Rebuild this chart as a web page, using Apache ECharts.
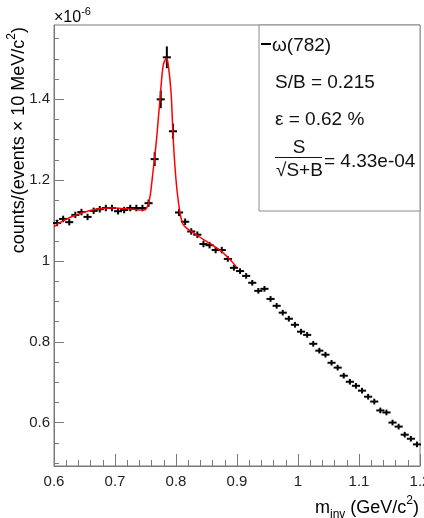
<!doctype html>
<html>
<head>
<meta charset="utf-8">
<script src="https://cdn.jsdelivr.net/npm/echarts@6/dist/echarts.min.js"></script>
<style>
  html, body { margin: 0; padding: 0; background: #fff; }
  #omegaChart { width: 424px; height: 518px; }
</style>
</head>
<body>
<div id="omegaChart"></div>
<script type="text/javascript">
    // invariant mass bins (GeV/c^2), 10 MeV wide
    const massBins = [
        0.605, 0.615, 0.625, 0.635, 0.645, 0.655, 0.665, 0.675, 0.685, 0.695,
        0.705, 0.715, 0.725, 0.735, 0.745, 0.755, 0.765, 0.775, 0.785, 0.795,
        0.805, 0.815, 0.825, 0.835, 0.845, 0.855, 0.865, 0.875, 0.885, 0.895,
        0.905, 0.915, 0.925, 0.935, 0.945, 0.955, 0.965, 0.975, 0.985, 0.995,
        1.005, 1.015, 1.025, 1.035, 1.045, 1.055, 1.065, 1.075, 1.085, 1.095,
        1.105, 1.115, 1.125, 1.135, 1.145, 1.155, 1.165, 1.175, 1.185, 1.195
    ];
    // counts in units of 1e-6
    const counts = [
        1.094, 1.104, 1.096, 1.114, 1.121, 1.109, 1.124, 1.128, 1.131, 1.131,
        1.123, 1.126, 1.131, 1.131, 1.131, 1.143, 1.252, 1.400, 1.504, 1.321,
        1.120, 1.097, 1.073, 1.065, 1.042, 1.039, 1.027, 1.027, 1.005, 0.983,
        0.975, 0.963, 0.946, 0.926, 0.931, 0.906, 0.889, 0.872, 0.857, 0.842,
        0.825, 0.817, 0.795, 0.778, 0.768, 0.748, 0.736, 0.716, 0.701, 0.691,
        0.679, 0.664, 0.652, 0.630, 0.625, 0.600, 0.590, 0.570, 0.560, 0.546
    ];
    const countErr = [
        0.008, 0.008, 0.008, 0.008, 0.008, 0.008, 0.008, 0.008, 0.008, 0.008,
        0.008, 0.008, 0.008, 0.008, 0.008, 0.009, 0.017, 0.022, 0.027, 0.019,
        0.009, 0.008, 0.008, 0.008, 0.008, 0.008, 0.008, 0.008, 0.007, 0.007,
        0.007, 0.007, 0.007, 0.007, 0.007, 0.007, 0.007, 0.007, 0.007, 0.007,
        0.007, 0.007, 0.007, 0.007, 0.007, 0.007, 0.007, 0.007, 0.007, 0.007,
        0.007, 0.007, 0.007, 0.007, 0.007, 0.007, 0.007, 0.007, 0.007, 0.007
    ];
    // fit curve
    const fitMass = [
        0.600, 0.610, 0.620, 0.630, 0.640, 0.650, 0.660, 0.670, 0.680, 0.690,
        0.700, 0.710, 0.720, 0.730, 0.740, 0.748, 0.754, 0.758, 0.762, 0.766,
        0.769, 0.774, 0.779, 0.784, 0.787, 0.792, 0.795, 0.798, 0.802, 0.807,
        0.811, 0.816, 0.823, 0.834, 0.845, 0.856, 0.864, 0.872, 0.880, 0.889, 0.899
    ];
    const fitCounts = [
        1.085, 1.095, 1.103, 1.110, 1.116, 1.121, 1.125, 1.128, 1.130, 1.131,
        1.131, 1.130, 1.129, 1.128, 1.126, 1.126, 1.138, 1.165, 1.217, 1.270,
        1.316, 1.405, 1.484, 1.501, 1.489, 1.415, 1.316, 1.240, 1.170, 1.115,
        1.092, 1.083, 1.075, 1.064, 1.053, 1.043, 1.035, 1.027, 1.016, 1.003, 0.985
    ];
    const yMajorTicks = [0.6, 0.8, 1, 1.2, 1.4];
    const yMinorTicks = [0.5, 0.55, 0.65, 0.7, 0.75, 0.85, 0.9, 0.95, 1.05, 1.1, 1.15,
        1.25, 1.3, 1.35, 1.45, 1.5, 1.55];
    const legendLines = ['ω(782)', 'S/B = 0.215', 'ε = 0.62 %'];
    const significance = '4.33e-04';

    const FONT = '"Liberation Sans", Arial, sans-serif';
    const AXIS_COLOR = '#7a7a7a';
    const halfBin = 0.005;

    const chart = echarts.init(document.getElementById('omegaChart'));

    function renderCross(params, api) {
        const m = api.value(0), c = api.value(1), e = api.value(2);
        const l = api.coord([m - halfBin, c]);
        const r = api.coord([m + halfBin, c]);
        const t = api.coord([m, c + e]);
        const b = api.coord([m, c - e]);
        return {
            type: 'group',
            children: [
                { type: 'line', shape: { x1: l[0] - 1, y1: l[1], x2: r[0] + 1, y2: r[1] }, style: { stroke: '#000', lineWidth: 2 } },
                { type: 'line', shape: { x1: t[0], y1: t[1], x2: b[0], y2: b[1] }, style: { stroke: '#000', lineWidth: 2 } }
            ]
        };
    }

    const supRich = {
        b: { fontFamily: FONT, fontSize: 18, lineHeight: 22, verticalAlign: 'bottom', color: '#111' },
        sup: { fontFamily: FONT, fontSize: 12, lineHeight: 22, verticalAlign: 'top', color: '#111' },
        sub: { fontFamily: FONT, fontSize: 12, lineHeight: 22, verticalAlign: 'bottom', padding: [0, 0, -4, 0], color: '#111' }
    };

    const option = {
        animation: false,
        grid: {
            left: 54, top: 25, right: 4, bottom: 52,
            outerBoundsMode: 'none',
            containLabel: false,
            show: true, borderColor: AXIS_COLOR, borderWidth: 1, backgroundColor: 'transparent'
        },
        xAxis: {
            type: 'value', min: 0.6, max: 1.2, interval: 0.1,
            axisLine: { show: true, lineStyle: { color: AXIS_COLOR, width: 1 } },
            axisTick: { show: true, inside: true, length: 12, lineStyle: { color: AXIS_COLOR } },
            minorTick: { show: true, splitNumber: 5, length: 6, lineStyle: { color: AXIS_COLOR } },
            axisLabel: {
                margin: 8, fontFamily: FONT, fontSize: 15, color: '#222',
                showMinLabel: true, showMaxLabel: true,
                formatter: v => String(+v.toFixed(1))
            },
            splitLine: { show: false }
        },
        yAxis: [
            {
                type: 'value', min: 0.4925, max: 1.584,
                axisLine: { show: true, lineStyle: { color: AXIS_COLOR, width: 1 } },
                axisTick: { show: true, inside: true, length: 10, customValues: yMajorTicks, lineStyle: { color: AXIS_COLOR } },
                axisLabel: {
                    margin: 4, fontFamily: FONT, fontSize: 15, color: '#222',
                    customValues: yMajorTicks,
                    formatter: v => String(+v.toFixed(1))
                },
                splitLine: { show: false }
            },
            {
                type: 'value', min: 0.4925, max: 1.584, position: 'left',
                axisLine: { show: false },
                axisTick: { show: true, inside: true, length: 5, customValues: yMinorTicks, lineStyle: { color: AXIS_COLOR } },
                axisLabel: { show: false },
                splitLine: { show: false }
            }
        ],
        series: [
            {
                type: 'custom',
                renderItem: renderCross,
                data: massBins.map((m, i) => [m, counts[i], countErr[i]]),
                z: 2
            },
            {
                type: 'line',
                data: fitMass.map((m, i) => [m, fitCounts[i]]),
                smooth: 0.3,
                showSymbol: false,
                lineStyle: { color: '#ff0000', width: 1.5 },
                z: 3
            }
        ],
        graphic: [
            // multiplier above the y axis
            {
                type: 'text', left: 54, top: 6,
                style: {
                    text: '{b|×10}{sup|-6}',
                    rich: {
                        b: { fontFamily: FONT, fontSize: 16, lineHeight: 20, verticalAlign: 'bottom', color: '#222' },
                        sup: { fontFamily: FONT, fontSize: 11, lineHeight: 20, verticalAlign: 'top', color: '#222' }
                    }
                }
            },
            // y axis title, rotated, aligned to top
            {
                type: 'text', x: 17, y: 27, rotation: Math.PI / 2,
                style: {
                    text: '{b|counts/(events × 10 MeV/c}{sup|2}{b|)}',
                    align: 'right', verticalAlign: 'middle',
                    rich: supRich
                }
            },
            // x axis title
            {
                type: 'text', x: 419, y: 506,
                style: {
                    text: '{b|m}{sub|inv}{b| (GeV/c}{sup|2}{b|)}',
                    align: 'right', verticalAlign: 'middle',
                    rich: supRich
                }
            },
            // legend box
            {
                type: 'rect', shape: { x: 259, y: 25, width: 161, height: 186 },
                style: { fill: '#fff', stroke: '#8a8a8a', lineWidth: 1 }, z: 10
            },
            {
                type: 'line', shape: { x1: 261, y1: 44, x2: 271, y2: 44 },
                style: { stroke: '#000', lineWidth: 2 }, z: 11
            },
            {
                type: 'text', x: 272, y: 46, z: 11,
                style: { text: legendLines[0], font: '19px ' + FONT, fill: '#111', verticalAlign: 'middle' }
            },
            {
                type: 'text', x: 275, y: 83, z: 11,
                style: { text: legendLines[1], font: '19px ' + FONT, fill: '#111', verticalAlign: 'middle' }
            },
            {
                type: 'text', x: 275, y: 120, z: 11,
                style: { text: legendLines[2], font: '19px ' + FONT, fill: '#111', verticalAlign: 'middle' }
            },
            {
                type: 'text', x: 299, y: 148, z: 11,
                style: { text: 'S', font: '19px ' + FONT, fill: '#111', align: 'center', verticalAlign: 'middle' }
            },
            {
                type: 'line', shape: { x1: 275, y1: 157.5, x2: 322, y2: 157.5 },
                style: { stroke: '#111', lineWidth: 1 }, z: 11
            },
            {
                type: 'text', x: 276, y: 171, z: 11,
                style: { text: '√S+B', font: '19px ' + FONT, fill: '#111', verticalAlign: 'middle' }
            },
            {
                type: 'text', x: 324, y: 162, z: 11,
                style: { text: '= ' + significance, font: '19px ' + FONT, fill: '#111', verticalAlign: 'middle' }
            }
        ]
    };

    chart.setOption(option);
</script>
</body>
</html>
